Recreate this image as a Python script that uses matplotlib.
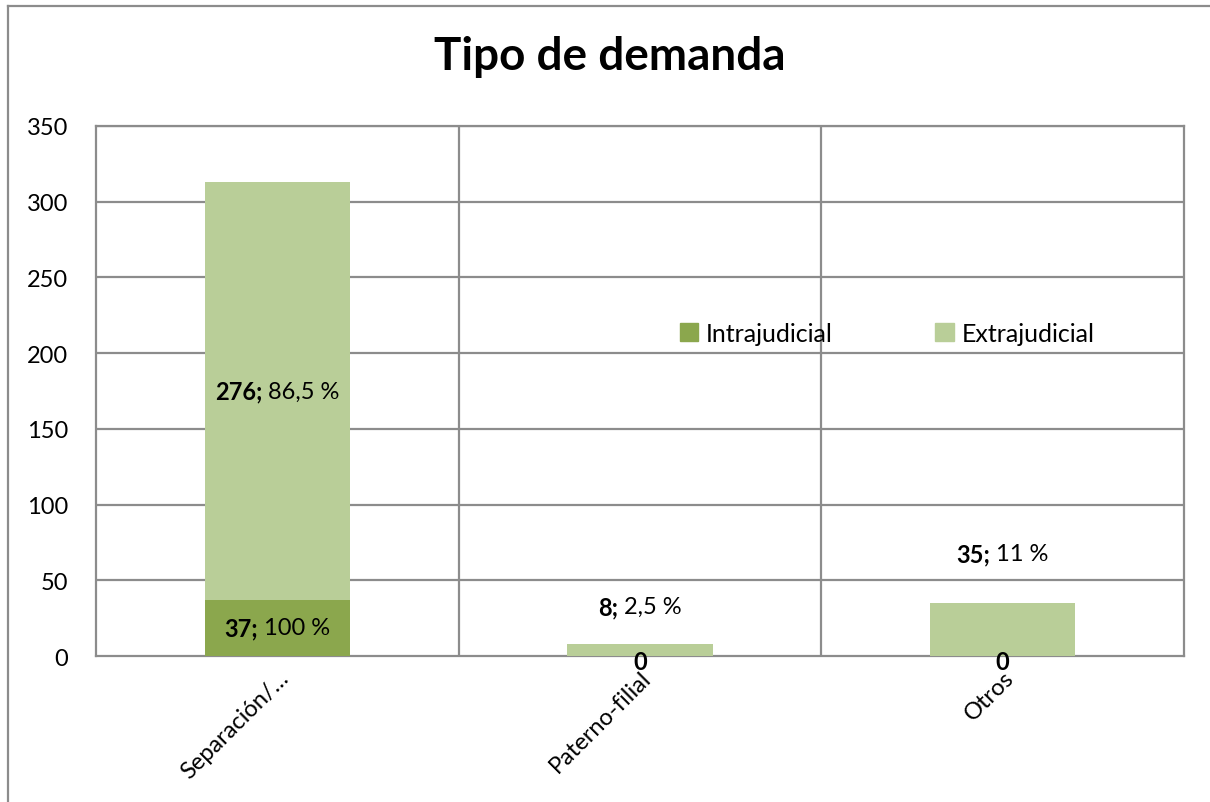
import matplotlib
matplotlib.use("Agg")
import numpy as np
from matplotlib import pyplot as plt
from matplotlib.lines import Line2D
from matplotlib.patches import Patch

categories = ["Separación/…", "Paterno-filial", "Otros"]
intrajudicial = [37, 0, 0]
extrajudicial = [276, 8, 35]
intra_pct = ["100 %", None, None]
extra_pct = ["86,5 %", "2,5 %", "11 %"]
# where the extrajudicial labels sit (data units), as placed in the original
extra_label_y = [175, 32.5, 67.5]

dark = "#8BA74D"
light = "#B9CE98"
grid = "#8C8C8C"

plt.rcParams["font.family"] = ["Lato", "DejaVu Sans"]

fig = plt.figure(figsize=(12.1, 8.03), dpi=100)
ax = fig.add_axes([96 / 1210, 1 - 657 / 803, 1088 / 1210, 530 / 803])

x = np.arange(len(categories))
w = 0.4
ax.bar(x, intrajudicial, w, color=dark, zorder=3)
ax.bar(x, extrajudicial, w, bottom=intrajudicial, color=light, zorder=3)

ax.set_xlim(-0.5, 2.5)
ax.set_ylim(0, 350)
ax.set_yticks(range(0, 351, 50))
ax.set_xticks(x)
ax.set_xticklabels(categories, rotation=45, ha="right", rotation_mode="anchor")
ax.tick_params(axis="both", length=0, labelsize=17)
ax.tick_params(axis="y", pad=20)
ax.tick_params(axis="x", pad=8)

for y in range(50, 351, 50):
    ax.axhline(y, color=grid, lw=1.6, zorder=1)
for xv in [0.5, 1.5]:
    ax.axvline(xv, color=grid, lw=1.6, zorder=1)
for s in ax.spines.values():
    s.set_color(grid)
    s.set_linewidth(1.6)

fig.canvas.draw()
renderer = fig.canvas.get_renderer()


def two_part(xc, yc, bold, normal, size=17):
    t1 = ax.text(xc, yc, bold, fontsize=size, fontweight="bold", ha="left", va="center", zorder=5)
    t2 = ax.text(xc, yc, " " + normal, fontsize=size, ha="left", va="center", zorder=5)
    w1 = t1.get_window_extent(renderer).width
    w2 = t2.get_window_extent(renderer).width
    total = w1 + w2
    inv = ax.transData.inverted()
    px, py = ax.transData.transform((xc, yc))
    t1.set_position(inv.transform((px - total / 2, py)))
    t2.set_position(inv.transform((px - total / 2 + w1, py)))


for i in range(len(categories)):
    if intrajudicial[i] > 0:
        two_part(x[i], intrajudicial[i] / 2, f"{intrajudicial[i]};", intra_pct[i])
    else:
        ax.text(x[i], -3.5, "0", fontsize=17, fontweight="bold", ha="center", va="center", zorder=5)
    two_part(x[i], extra_label_y[i], f"{extrajudicial[i]};", extra_pct[i])

handles = [Patch(color=dark), Patch(color=light)]
ax.legend(handles, ["Intrajudicial", "Extrajudicial"], ncol=2, frameon=False,
          fontsize=18, loc="center", bbox_to_anchor=(0.727, 0.609),
          handlelength=0.75, handleheight=0.75, handletextpad=0.3, columnspacing=4.1)

fig.suptitle("Tipo de demanda", fontsize=33, fontweight="bold", x=610 / 1210, y=1 - 57 / 803, va="center")

# outer chart frame (left and top edges visible)
fig.add_artist(Line2D([8 / 1210, 8 / 1210], [0, 1 - 7 / 803], color=grid, lw=1.6))
fig.add_artist(Line2D([8 / 1210, 1], [1 - 7 / 803, 1 - 7 / 803], color=grid, lw=1.6))

fig.savefig("out.png", dpi=100)
